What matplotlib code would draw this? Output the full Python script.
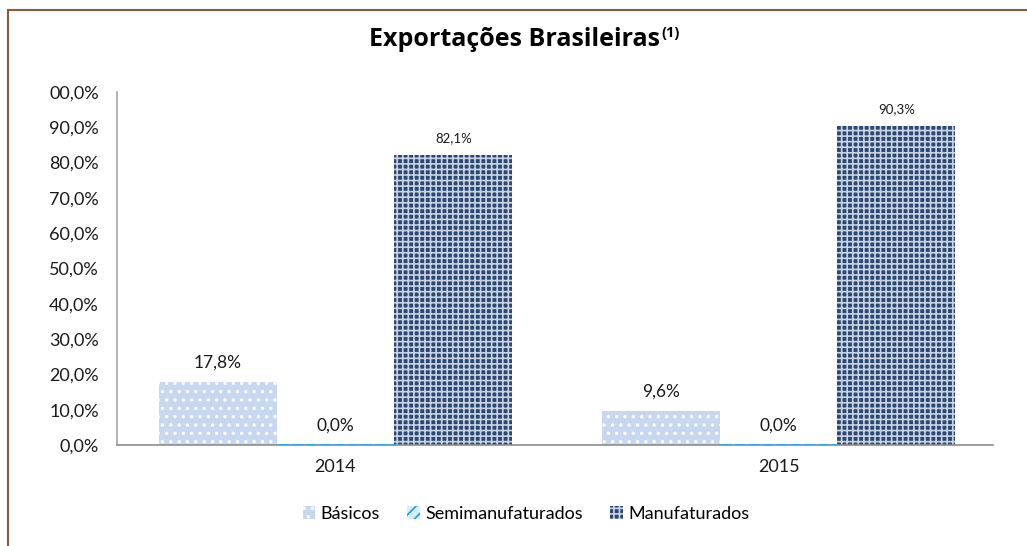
import numpy as np
import matplotlib.pyplot as plt
from matplotlib.patches import Rectangle, Patch

# Data
years = ["2014", "2015"]
basicos = [17.8, 9.6]
semimanufaturados = [0.0, 0.0]
manufaturados = [82.1, 90.3]
y_ticks = [0, 10, 20, 30, 40, 50, 60, 70, 80, 90, 100]
y_tick_labels = ["0,0%", "10,0%", "20,0%", "30,0%", "40,0%", "50,0%",
                 "60,0%", "70,0%", "80,0%", "90,0%", "00,0%"]

plt.rcParams['font.family'] = ['Lato', 'DejaVu Sans']
plt.rcParams['hatch.linewidth'] = 1.2

fig = plt.figure(figsize=(10.27, 5.46), dpi=100)
ax = fig.add_axes([117 / 1027, 1 - 445 / 546, 876 / 1027, 353 / 546])

x = np.arange(len(years))
w = 0.266

b1 = ax.bar(x - w, basicos, w, color="#c6d7ef", edgecolor="white",
            hatch="..", linewidth=0)
# zero-height bars: only their dashed outline shows, over the x axis line
b2 = ax.bar(x, semimanufaturados, w, color="#1f9cf0", edgecolor="#2aa4f4",
            linestyle=(0, (3, 2)), linewidth=2, zorder=3)
b3 = ax.bar(x + w, manufaturados, w, color="#2c4770", edgecolor="#c8d4e6",
            hatch="+++", linewidth=0)

for bars, vals, fs in [(b1, basicos, 12.5), (b2, semimanufaturados, 12.5),
                       (b3, manufaturados, 9.5)]:
    for rect, v in zip(bars, vals):
        ax.annotate(f"{v:.1f}%".replace(".", ","),
                    (rect.get_x() + rect.get_width() / 2, v),
                    xytext=(0, 8), textcoords="offset points",
                    ha="center", va="bottom", fontsize=fs, color="#1a1a1a")

ax.set_xlim(-0.493, 1.484)
ax.set_ylim(0, 100)
ax.set_yticks(y_ticks)
ax.set_yticklabels(y_tick_labels)
ax.set_xticks(x)
ax.set_xticklabels(years)
ax.tick_params(length=0, labelsize=13, colors="#1a1a1a")
ax.tick_params(axis="y", pad=13)
ax.tick_params(axis="x", pad=10)
for s in ["top", "right"]:
    ax.spines[s].set_visible(False)
ax.spines["left"].set_color("#a6a6a6")
ax.spines["bottom"].set_color("#8c8c8c")
ax.spines["left"].set_linewidth(1.2)
ax.spines["bottom"].set_linewidth(1.2)

title_font = ["Open Sans", "DejaVu Sans"]
fig.text(660 / 1027, 1 - 40 / 546, "Exportações Brasileiras", ha="right",
         va="center", fontsize=18, fontweight="bold", family=title_font)
fig.text(661 / 1027, 1 - 33 / 546, "(1)", ha="left", va="center",
         fontsize=10.5, fontweight="bold", family=title_font)

handles = [
    Patch(facecolor="#c6d7ef", edgecolor="white", hatch="..", linewidth=0),
    Patch(facecolor="#d8eefd", edgecolor="#1f9cf0", hatch="///", linewidth=0),
    Patch(facecolor="#2c4770", edgecolor="#c8d4e6", hatch="+++", linewidth=0),
]
fig.legend(handles, ["Básicos", "Semimanufaturados", "Manufaturados"],
           loc="center", bbox_to_anchor=(526 / 1027, 1 - 514 / 546),
           ncol=3, frameon=False, fontsize=13, handlelength=0.7,
           handleheight=0.7, handletextpad=0.3, columnspacing=1.5)

# chart-area border (only top and left visible in the reference crop)
fig.patches.append(Rectangle((8 / 1027, -0.05), 1.2, 1 - 10 / 546 + 0.05,
                             transform=fig.transFigure, fill=False,
                             edgecolor="#8b5a3c", linewidth=1.5))

fig.savefig("out.png", dpi=100)
